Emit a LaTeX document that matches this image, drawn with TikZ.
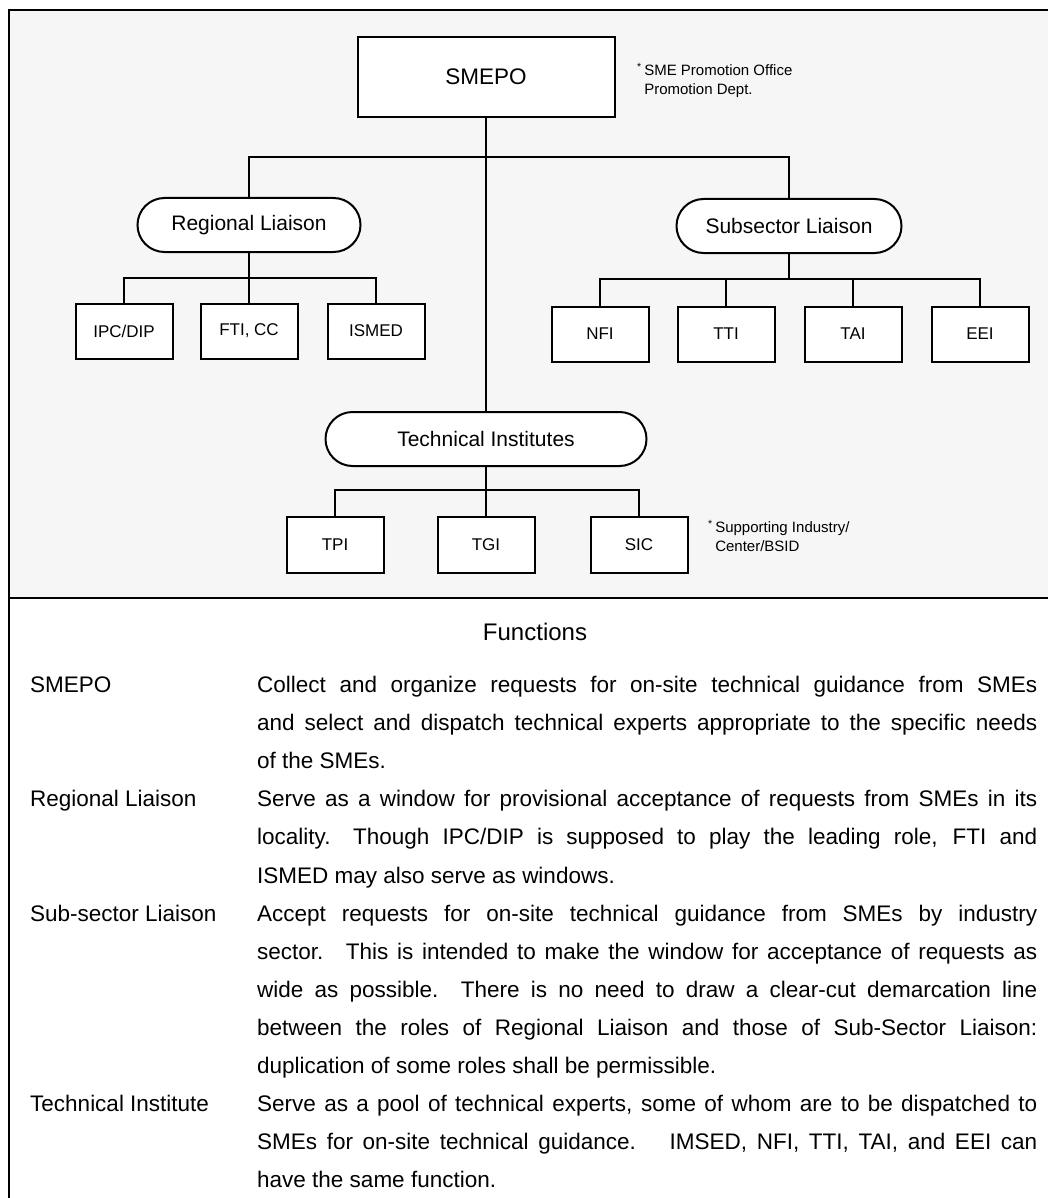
\documentclass[tikz,border=0pt]{standalone}
\usepackage{fontspec}
\setmainfont{Liberation Sans}
\usetikzlibrary{positioning, calc}
\tikzset{
	unit/.style={rectangle, draw, line width=2pt, fill=white, minimum width=97pt, minimum height=55pt, inner sep=0pt, font=\fontsize{17}{20}\selectfont},
	liaison/.style={rectangle, draw, line width=2pt, fill=white, rounded corners=27pt, minimum height=54pt, inner sep=0pt, font=\fontsize{21}{24}\selectfont},
	link/.style={draw, line width=1.8pt}
}
\newcommand{\justline}[1]{\makebox[780pt][s]{#1}}

\begin{document}
\begin{tikzpicture}[
	x=1pt, y=-1pt,
	note/.style={align=left, anchor=north west, inner sep=0pt, font=\fontsize{15}{19}\selectfont},
	rowlabel/.style={anchor=base west, inner sep=0pt, font=\fontsize{22.5}{26}\selectfont},
	rowtext/.style={anchor=base west, inner sep=0pt, font=\fontsize{22.5}{26}\selectfont}
	]
	\useasboundingbox (0,0) rectangle (1048,1198);
	
	% Chart panel and frame
	\fill[gray!7] (9,10) rectangle (1048,598);
	\draw[line width=2.5pt] (1048,10) -- (9,10) -- (9,1198);
	\draw[line width=2.5pt] (9,598) -- (1048,598);
	
	% Head office
	\node[unit, minimum width=257pt, minimum height=80pt, font=\fontsize{22.5}{26}\selectfont] (smepo) at (486,77) {SMEPO};
	\node[note] (smepo_note) at (637,63) {\textsuperscript{*}\,SME Promotion Office\\\phantom{\textsuperscript{*}\,}Promotion Dept.};
	
	% Liaisons and institutes
	\node[liaison, minimum width=223pt] (regional) at (249,225) {Regional Liaison};
	\node[liaison, minimum width=225pt] (subsector) at (789,226) {Subsector Liaison};
	\node[liaison, minimum width=321pt] (tech_inst) at (486,439) {Technical Institutes};
	
	% Regional units
	\node[unit] (ipc_dip) at (124,331) {IPC/DIP};
	\node[unit] (fti_cc) at (249,331) {FTI, CC};
	\node[unit] (ismed) at (376,331) {ISMED};
	
	% Subsector units
	\node[unit] (nfi) at (600,334) {NFI};
	\node[unit] (tti) at (726,334) {TTI};
	\node[unit] (tai) at (853,334) {TAI};
	\node[unit] (eei) at (980,334) {EEI};
	
	% Technical institutes
	\node[unit, minimum height=56pt] (tpi) at (335,545) {TPI};
	\node[unit, minimum height=56pt] (tgi) at (486,545) {TGI};
	\node[unit, minimum height=56pt] (sic) at (639,545) {SIC};
	\node[note] (sic_note) at (708,520) {\textsuperscript{*}\,Supporting Industry/\\\phantom{\textsuperscript{*}\,}Center/BSID};
	
	% bus points
	\coordinate (liaison_bus) at (486,157);
	\coordinate (regional_bus) at (249,278);
	\coordinate (subsector_bus) at (789,279);
	\coordinate (tech_bus) at (486,490);
	
	% connectors
	\draw[link] (smepo) -- (tech_inst);
	\draw[link] (regional.north) |- (liaison_bus) -| (subsector.north);
	
	\draw[link] (regional) -- (regional_bus);
	\draw[link] (ipc_dip.north) |- (regional_bus);
	\draw[link] (fti_cc) -- (regional_bus);
	\draw[link] (ismed.north) |- (regional_bus);
	
	\draw[link] (subsector) -- (subsector_bus);
	\draw[link] (nfi.north) |- (subsector_bus);
	\draw[link] (tti.north) |- (subsector_bus);
	\draw[link] (tai.north) |- (subsector_bus);
	\draw[link] (eei.north) |- (subsector_bus);
	
	\draw[link] (tech_inst) -- (tech_bus);
	\draw[link] (tpi.north) |- (tech_bus);
	\draw[link] (tgi) -- (tech_bus);
	\draw[link] (sic.north) |- (tech_bus);
	
	%
	% Functions table
	%
	\node[font=\fontsize{24}{28}\selectfont] (functions) at (535,632) {Functions};
	
	\node[rowlabel] (smepo_label) at (30,692.5) {SMEPO};
	\node[rowtext] (smepo_text_1) at (257,692.5) {\justline{Collect and organize requests for on-site technical guidance from SMEs}};
	\node[rowtext] (smepo_text_2) at (257,730.6) {\justline{and select and dispatch technical experts appropriate to the specific needs}};
	\node[rowtext] (smepo_text_3) at (257,768.7) {of the SMEs.};
	
	\node[rowlabel] (regional_label) at (30,806.8) {Regional Liaison};
	\node[rowtext] (regional_text_1) at (257,806.8) {\justline{Serve as a window for provisional acceptance of requests from SMEs in its}};
	\node[rowtext] (regional_text_2) at (257,844.9) {\justline{locality.\quad Though IPC/DIP is supposed to play the leading role, FTI and}};
	\node[rowtext] (regional_text_3) at (257,883.0) {ISMED may also serve as windows.};
	
	\node[rowlabel] (subsector_label) at (30,921.1) {Sub-sector Liaison};
	\node[rowtext] (subsector_text_1) at (257,921.1) {\justline{Accept requests for on-site technical guidance from SMEs by industry}};
	\node[rowtext] (subsector_text_2) at (257,959.2) {\justline{sector.\quad This is intended to make the window for acceptance of requests as}};
	\node[rowtext] (subsector_text_3) at (257,997.3) {\justline{wide as possible.\quad There is no need to draw a clear-cut demarcation line}};
	\node[rowtext] (subsector_text_4) at (257,1035.4) {\justline{between the roles of Regional Liaison and those of Sub-Sector Liaison:}};
	\node[rowtext] (subsector_text_5) at (257,1073.5) {duplication of some roles shall be permissible.};
	
	\node[rowlabel] (tech_label) at (30,1111.6) {Technical Institute};
	\node[rowtext] (tech_text_1) at (257,1111.6) {\justline{Serve as a pool of technical experts, some of whom are to be dispatched to}};
	\node[rowtext] (tech_text_2) at (257,1149.7) {\justline{SMEs for on-site technical guidance.\quad\enspace IMSED, NFI, TTI, TAI, and EEI can}};
	\node[rowtext] (tech_text_3) at (257,1187.8) {have the same function.};
	
\end{tikzpicture}
\end{document}
